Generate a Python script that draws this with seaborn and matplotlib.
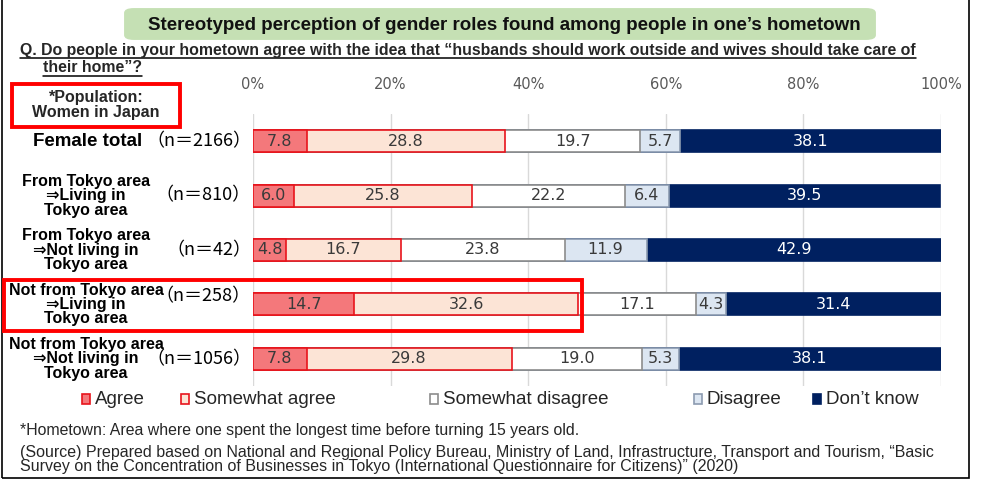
import matplotlib
matplotlib.use("Agg")
import matplotlib.pyplot as plt
import matplotlib.transforms as mtransforms
from matplotlib.patches import FancyBboxPatch, Rectangle
from matplotlib.lines import Line2D
import numpy as np
import pandas as pd
import seaborn as sns

sns.set_theme(style="white")
plt.rcParams["font.family"] = ["Liberation Sans", "DejaVu Sans"]

# data
groups = ["Female total", "From Tokyo area ⇒Living in Tokyo area", "From Tokyo area ⇒Not living in Tokyo area",
          "Not from Tokyo area ⇒Living in Tokyo area", "Not from Tokyo area ⇒Not living in Tokyo area"]
group_labels = ["", "From Tokyo area\n⇒Living in\nTokyo area", "From Tokyo area\n⇒Not living in\nTokyo area",
                "Not from Tokyo area\n⇒Living in\nTokyo area", "Not from Tokyo area\n⇒Not living in\nTokyo area"]
n_labels = ["（n＝2166）", "（n＝810）", "（n＝42）", "（n＝258）", "（n＝1056）"]
answers = ["Agree", "Somewhat agree", "Somewhat disagree", "Disagree", "Don’t know"]
agree = [7.8, 6.0, 4.8, 14.7, 7.8]
somewhat_agree = [28.8, 25.8, 16.7, 32.6, 29.8]
somewhat_disagree = [19.7, 22.2, 23.8, 17.1, 19.0]
disagree = [5.7, 6.4, 11.9, 4.3, 5.3]
dont_know = [38.1, 39.5, 42.9, 31.4, 38.1]
xticks = [0, 20, 40, 60, 80, 100]

fills = ["#F4787B", "#FCE4D6", "#FFFFFF", "#DCE6F2", "#002060"]
edges = ["#E8141C", "#E8141C", "#8C8C8C", "#8C9BB0", "#002060"]
txtc = ["#3A3A3A", "#3A3A3A", "#3A3A3A", "#3A3A3A", "#FFFFFF"]

W, H = 981, 483
fx = lambda px: px / W
fy = lambda py: 1 - py / H

df = pd.DataFrame({"group": groups, "Agree": agree, "Somewhat agree": somewhat_agree,
                   "Somewhat disagree": somewhat_disagree, "Disagree": disagree, "Don’t know": dont_know})
cum = df[answers].cumsum(axis=1)

fig = plt.figure(figsize=(W / 100, H / 100), dpi=100)
ax = fig.add_axes([fx(253), fy(386), fx(941) - fx(253), fy(114) - fy(386)])

# stacked bars: draw cumulative totals from the longest down so each segment shows
for ans, fc, ec in reversed(list(zip(answers, fills, edges))):
    sns.barplot(x=cum[ans], y=df["group"], orient="h", color=fc, edgecolor=ec, linewidth=1.2,
                width=0.405, saturation=1, ax=ax, zorder=3)

# values inside bars
for i in range(len(groups)):
    for j, ans in enumerate(answers):
        v = df.loc[i, ans]
        ax.text(cum.loc[i, ans] - v / 2, i, f"{v:.1f}", ha="center", va="center",
                fontsize=11.5, color=txtc[j], family=["DejaVu Sans"], zorder=5)

ax.set_xlim(0, 100)
ax.set_ylim(4.5, -0.5)
ax.set_xticks(xticks)
ax.set_xticklabels([f"{t}%" for t in xticks], fontsize=10.5, color="#595959", family=["DejaVu Sans"])
ax.xaxis.tick_top()
ax.tick_params(axis="x", length=0, pad=16)
ax.set_yticks([])
ax.set_xlabel("")
ax.set_ylabel("")
for s in ax.spines.values():
    s.set_visible(False)
ax.grid(False)
for t in xticks:
    ax.axvline(t, color="#D9D9D9", lw=1, zorder=0)

# row labels
tr = mtransforms.blended_transform_factory(fig.transFigure, ax.transData)
ax.text(fx(33), 0, "Female total", transform=tr, ha="left", va="center", fontsize=13.5,
        fontweight="bold", color="black")
n_dy = [0, 0, 0, -0.15, 0]
for i, lab in enumerate(group_labels):
    if lab:
        ax.text(fx(86), i, lab, transform=tr, ha="center", va="center", fontsize=11.5,
                fontweight="bold", linespacing=0.95, multialignment="center", color="black")
    ax.text(fx(251), i + n_dy[i], n_labels[i], transform=tr, ha="right", va="center",
            fontsize=13, family=["Noto Sans CJK JP", "DejaVu Sans"], color="black")

# title box
fig.patches.append(FancyBboxPatch((fx(128), fy(38)), fx(872) - fx(128), fy(10) - fy(38),
                                  boxstyle="round,pad=0.004,rounding_size=0.01",
                                  transform=fig.transFigure, fc="#C5E0B4", ec="none"))
fig.text(fx(504), fy(25), "Stereotyped perception of gender roles found among people in one’s hometown",
         ha="center", va="center", fontsize=13.5, fontweight="bold", color="#111111")

# question (underlined)
q1 = fig.text(fx(20), fy(50), "Q. Do people in your hometown agree with the idea that “husbands should work outside and wives should take care of",
              ha="left", va="center", fontsize=11.4, fontweight="bold")
q2 = fig.text(fx(43), fy(68), "their home”?", ha="left", va="center", fontsize=11.4, fontweight="bold")
fig.canvas.draw()
rend = fig.canvas.get_renderer()
for t in (q1, q2):
    bb = t.get_window_extent(rend)
    y0 = bb.y0 - 0.5
    fig.lines.append(Line2D([bb.x0 / W, bb.x1 / W], [y0 / H, y0 / H], color="black", lw=1.1,
                            transform=fig.transFigure))

# population box
fig.patches.append(Rectangle((fx(12), fy(127)), fx(180) - fx(12), fy(84) - fy(127),
                             transform=fig.transFigure, fc="none", ec="#FF0000", lw=2.8))
fig.text(fx(96), fy(105), "*Population:\nWomen in Japan", ha="center", va="center", fontsize=11.5,
         fontweight="bold", linespacing=0.95)

# highlight box
fig.patches.append(Rectangle((fx(4), fy(331)), fx(582) - fx(4), fy(280) - fy(331),
                             transform=fig.transFigure, fc="none", ec="#FF0000", lw=2.8, zorder=6))

# legend
leg_x = [82, 181, 430, 694, 813]
for x, ans, fc, ec in zip(leg_x, answers, fills, edges):
    fig.patches.append(Rectangle((fx(x), fy(404)), fx(8), fy(394) - fy(404), transform=fig.transFigure,
                                 fc=fc, ec=ec, lw=1.2))
    fig.text(fx(x + 13), fy(399), ans, ha="left", va="center", fontsize=13.5)

# notes
fig.text(fx(20), fy(431), "*Hometown: Area where one spent the longest time before turning 15 years old.",
         ha="left", va="center", fontsize=11.4)
fig.text(fx(20), fy(452), "(Source) Prepared based on National and Regional Policy Bureau, Ministry of Land, Infrastructure, Transport and Tourism, “Basic",
         ha="left", va="center", fontsize=11.5)
fig.text(fx(20), fy(467), "Survey on the Concentration of Businesses in Tokyo (International Questionnaire for Citizens)” (2020)",
         ha="left", va="center", fontsize=11.5)

# outer frame
fig.patches.append(Rectangle((fx(2), fy(478)), fx(969) - fx(2), fy(-2) - fy(478),
                             transform=fig.transFigure, fc="none", ec="black", lw=1.2))

fig.savefig("out.png", dpi=100)
